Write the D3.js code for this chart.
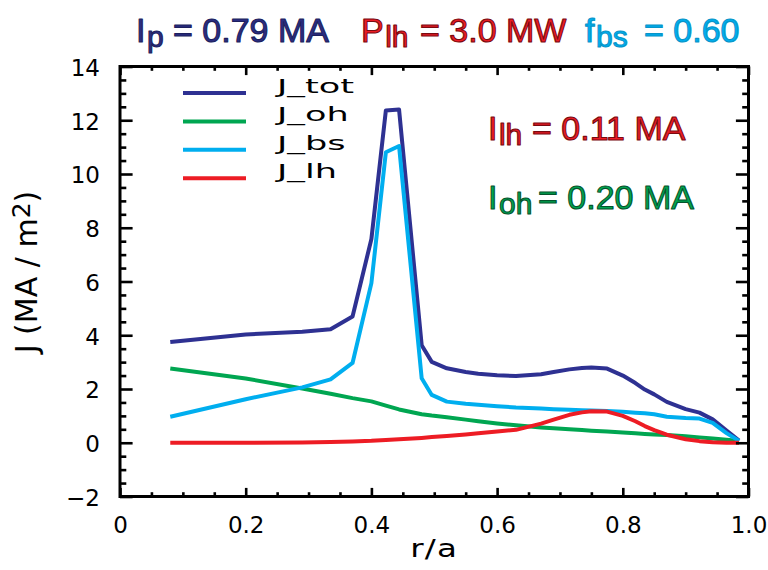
<!DOCTYPE html>
<html><head><meta charset="utf-8">
<script src="https://cdn.jsdelivr.net/npm/d3@7"></script>
<style>body{margin:0;background:#fff} svg{display:block}</style>
</head><body>
<svg id="chart" width="768" height="570"></svg>
<script>
// ---- data ----
const rGrid = [0.08, 0.20, 0.29, 0.335, 0.37, 0.40, 0.423, 0.444, 0.48, 0.496, 0.52, 0.55, 0.57, 0.60, 0.63, 0.67, 0.69, 0.715, 0.735, 0.75, 0.775, 0.80, 0.82, 0.835, 0.85, 0.87, 0.90, 0.922, 0.943, 0.965, 0.985];
const jTot = [3.75, 4.03, 4.13, 4.22, 4.70, 7.58, 12.36, 12.40, 3.63, 3.01, 2.77, 2.63, 2.57, 2.51, 2.48, 2.55, 2.63, 2.73, 2.78, 2.80, 2.76, 2.50, 2.22, 1.98, 1.80, 1.52, 1.25, 1.12, 0.87, 0.45, 0.08];
const jOh  = [2.76, 2.39, 2.02, 1.82, 1.66, 1.54, 1.38, 1.24, 1.06, 1.01, 0.95, 0.86, 0.80, 0.72, 0.65, 0.57, 0.54, 0.50, 0.47, 0.45, 0.42, 0.38, 0.35, 0.33, 0.31, 0.29, 0.24, 0.20, 0.16, 0.11, 0.07];
const jBs  = [0.97, 1.62, 2.06, 2.36, 2.97, 5.94, 10.81, 11.04, 2.40, 1.78, 1.53, 1.45, 1.41, 1.36, 1.31, 1.27, 1.25, 1.23, 1.21, 1.20, 1.18, 1.15, 1.12, 1.10, 1.06, 0.97, 0.92, 0.90, 0.74, 0.36, 0.07];
const jLh  = [0.00, 0.00, 0.01, 0.03, 0.05, 0.07, 0.10, 0.13, 0.18, 0.21, 0.25, 0.31, 0.35, 0.42, 0.48, 0.71, 0.86, 1.04, 1.13, 1.17, 1.16, 1.00, 0.80, 0.62, 0.47, 0.30, 0.13, 0.06, 0.02, 0.00, 0.00];

const seriesNames  = ["J_tot", "J_oh", "J_bs", "J_lh"];
const seriesValues = [jTot, jOh, jBs, jLh];
const seriesColors = ["#2E3192", "#00A651", "#00AEEF", "#ED1C24"];

const xTickValues = [0, 0.2, 0.4, 0.6, 0.8, 1.0];
const xTickLabels = ["0", "0.2", "0.4", "0.6", "0.8", "1.0"];
const yTickValues = [-2, 0, 2, 4, 6, 8, 10, 12, 14];
const yTickLabels = ["\u22122", "0", "2", "4", "6", "8", "10", "12", "14"];

const xTitle = "r/a";
const yTitleMain = "J (MA / m";
const yTitleSup = "2";
const yTitleEnd = ")";

// title / annotation texts: [main, subscript, rest]
const headerTexts = [["I", "p", "= 0.79 MA"], ["P", "lh", "= 3.0 MW"], ["f", "bs", "= 0.60"]];
const noteTexts = [["I", "lh", "= 0.11 MA"], ["I", "oh", "= 0.20 MA"]];

// ---- layout ----
const svg = d3.select("#chart");
const L = 120, R = 748.5, T = 66.5, B = 496.5;
const x = d3.scaleLinear().domain([0, 1]).range([L, R]);
const y = d3.scaleLinear().domain([-2, 14]).range([B, T]);

const tickFont = "'DejaVu Sans', sans-serif";
const titleFont = "'Liberation Sans', Arial, sans-serif";

// curves
const line = d3.line().x(d => x(d[0])).y(d => y(d[1])).curve(d3.curveLinear);
seriesValues.forEach((vals, i) => {
  svg.append("path")
    .datum(rGrid.map((r, k) => [r, vals[k]]))
    .attr("d", line)
    .attr("fill", "none")
    .attr("stroke", seriesColors[i])
    .attr("stroke-width", 4)
    .attr("stroke-linejoin", "round");
});

// axes
const xMinor = d3.range(0, 1.0001, 0.05).filter(v => Math.abs(v * 5 - Math.round(v * 5)) > 1e-6);
const yMinor = d3.range(-2, 14.0001, 0.5).filter(v => Math.abs(v / 2 - Math.round(v / 2)) > 1e-6);

function styleAxis(g) {
  g.select(".domain").remove();
  g.selectAll(".tick line").attr("stroke", "#000").attr("stroke-width", 2.6);
  g.selectAll(".tick text").attr("fill", "#000").style("font-family", tickFont).style("font-size", "23px");
}

// bottom
svg.append("g").attr("transform", `translate(0,${B})`)
  .call(d3.axisBottom(x).tickValues(xTickValues).tickFormat((d, i) => xTickLabels[i]).tickSize(-8.6).tickSizeOuter(0).tickPadding(20))
  .call(styleAxis);
svg.append("g").attr("transform", `translate(0,${B})`)
  .call(d3.axisBottom(x).tickValues(xMinor).tickFormat("").tickSize(-4.3).tickSizeOuter(0))
  .call(styleAxis);
// top
svg.append("g").attr("transform", `translate(0,${T})`)
  .call(d3.axisTop(x).tickValues(xTickValues).tickFormat("").tickSize(-8.6).tickSizeOuter(0))
  .call(styleAxis);
svg.append("g").attr("transform", `translate(0,${T})`)
  .call(d3.axisTop(x).tickValues(xMinor).tickFormat("").tickSize(-4.3).tickSizeOuter(0))
  .call(styleAxis);
// left
svg.append("g").attr("transform", `translate(${L},0)`)
  .call(d3.axisLeft(y).tickValues(yTickValues).tickFormat((d, i) => yTickLabels[i]).tickSize(-12.6).tickSizeOuter(0).tickPadding(20))
  .call(styleAxis)
  .call(g => g.selectAll(".tick text").attr("dy", "0.38em"));
svg.append("g").attr("transform", `translate(${L},0)`)
  .call(d3.axisLeft(y).tickValues(yMinor).tickFormat("").tickSize(-6.3).tickSizeOuter(0))
  .call(styleAxis);
// right
svg.append("g").attr("transform", `translate(${R},0)`)
  .call(d3.axisRight(y).tickValues(yTickValues).tickFormat("").tickSize(-12.6).tickSizeOuter(0))
  .call(styleAxis);
svg.append("g").attr("transform", `translate(${R},0)`)
  .call(d3.axisRight(y).tickValues(yMinor).tickFormat("").tickSize(-6.3).tickSizeOuter(0))
  .call(styleAxis);

// frame
svg.append("rect").attr("x", L).attr("y", T).attr("width", R - L).attr("height", B - T)
  .attr("fill", "none").attr("stroke", "#000").attr("stroke-width", 3);

// axis titles
svg.append("text").attr("transform", `translate(${(L + R) / 2},557) scale(1.3,1)`).attr("text-anchor", "middle")
  .style("font-family", tickFont).style("font-size", "25px").style("letter-spacing", "1px")
  .text(xTitle);
const yt = svg.append("text").attr("transform", "translate(37,272) rotate(-90)").attr("text-anchor", "middle")
  .style("font-family", tickFont).style("font-size", "30px");
yt.append("tspan").text(yTitleMain);
yt.append("tspan").attr("dy", -7).style("font-size", "25px").text(yTitleSup);
yt.append("tspan").attr("dy", 7).text(yTitleEnd);

// legend
const legY0 = 93, legStep = 28.4;
seriesNames.forEach((name, i) => {
  const ly = legY0 + i * legStep;
  svg.append("line").attr("x1", 183).attr("x2", 246).attr("y1", ly).attr("y2", ly)
    .attr("stroke", seriesColors[i]).attr("stroke-width", 4);
  svg.append("text").attr("transform", `translate(277,${ly}) scale(1.85,1)`)
    .style("font-family", tickFont).style("font-size", "19px").attr("fill", "#000")
    .text(name);
});

// header and notes
function labelText(parts, x0, xRest, yb, color, edge) {
  const t = svg.append("text").attr("x", x0).attr("y", yb)
    .style("font-family", titleFont).style("font-size", "34px").attr("fill", color)
    .attr("stroke", edge).attr("stroke-width", 1.1).attr("stroke-linejoin", "round");
  t.append("tspan").text(parts[0]);
  t.append("tspan").attr("dx", 1.5).attr("dy", 5).style("font-size", "30px").text(parts[1]);
  t.append("tspan").attr("x", xRest).attr("y", yb).text(parts[2]);
}
const headerColors = ["#2B2E83", "#ED1C24", "#00AEEF"];
const headerEdges = ["#1d1f5e", "#7a0a10", "#0795c9"];
const headerX = [[136, 173], [361, 420], [585, 644]];
headerTexts.forEach((p, i) => labelText(p, headerX[i][0], headerX[i][1], 42, headerColors[i], headerEdges[i]));
const noteColors = ["#ED1C24", "#00A651"];
const noteEdges = ["#7a0a10", "#05532c"];
const noteX = [[488, 532], [488, 538]];
const noteY = [140, 209];
noteTexts.forEach((p, i) => labelText(p, noteX[i][0], noteX[i][1], noteY[i], noteColors[i], noteEdges[i]));
</script>
</body></html>
